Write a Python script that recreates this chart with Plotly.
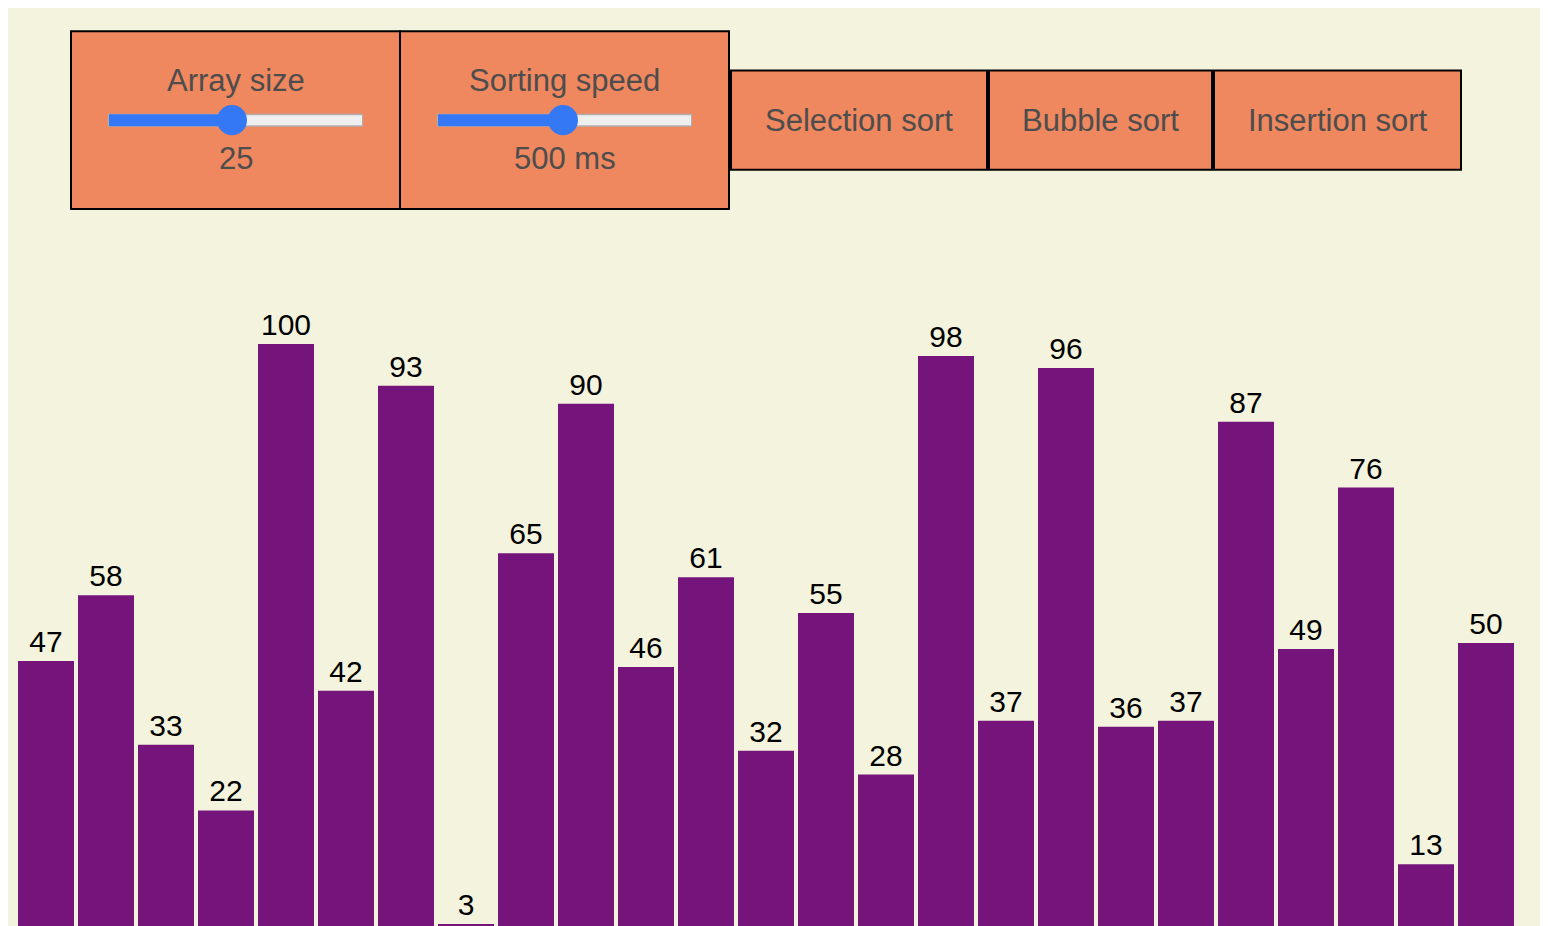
import plotly.graph_objects as go

# bar values of the array
positions = list(range(25))
values = [47, 58, 33, 22, 100, 42, 93, 3, 65, 90, 46, 61, 32, 55, 28,
          98, 37, 96, 36, 37, 87, 49, 76, 13, 50]

# control panel labels
panel_titles = ["Array size", "Sorting speed"]
panel_values = ["25", "500 ms"]
button_labels = ["Selection sort", "Bubble sort", "Insertion sort"]

W, H = 1548, 926
OFF = 8  # page margin of the html body
L, T = 16 - OFF, 200 - OFF
PW, PH = 1500, H - 200

bg = "#F4F4DE"
box_col = "#EF875F"
bar_col = "#75147A"
txt_col = "#4D4D4D"


# screen pixel -> paper coordinates
def px(x):
    return (x - 16) / PW


def py(y):
    return (926 - y) / PH


fig = go.Figure(go.Bar(
    x=positions, y=values, text=values, textposition="outside",
    marker=dict(color=bar_col, line=dict(width=0)),
    textfont=dict(family="Liberation Sans, Arial", size=30, color="black"),
    cliponaxis=False, hoverinfo="skip",
))

shapes = []
annotations = []


def label(x, y, text):
    annotations.append(dict(xref="paper", yref="paper", x=px(x), y=py(y), text=text,
                            showarrow=False, xanchor="center", yanchor="middle",
                            font=dict(family="Liberation Sans, Arial", size=31, color=txt_col)))


# slider panels
panel_x = [(71, 400), (400, 729)]
thumb_x = [232, 563]
for (x0, x1), tx, title, val in zip(panel_x, thumb_x, panel_titles, panel_values):
    shapes.append(dict(type="rect", xref="paper", yref="paper", x0=px(x0), x1=px(x1),
                       y0=py(209), y1=py(33), fillcolor=box_col, line=dict(color="black", width=2)))
    cx = (x0 + x1) / 2
    t0, t1 = x0 + 37, x1 - 37
    shapes.append(dict(type="line", xref="paper", yref="paper", x0=px(t0), x1=px(t1),
                       y0=py(121), y1=py(121), line=dict(color="#B0B0B0", width=13)))
    shapes.append(dict(type="line", xref="paper", yref="paper", x0=px(t0 + 1), x1=px(t1 - 1),
                       y0=py(121), y1=py(121), line=dict(color="#EFEFEF", width=10)))
    shapes.append(dict(type="line", xref="paper", yref="paper", x0=px(t0 + 1), x1=px(tx),
                       y0=py(121), y1=py(121), line=dict(color="#3478F6", width=12)))
    shapes.append(dict(type="circle", xref="paper", yref="paper", x0=px(tx - 15), x1=px(tx + 15),
                       y0=py(136), y1=py(106), fillcolor="#3478F6", line=dict(width=0)))
    label(cx, 82, title)
    label(cx, 159, val)

# sort buttons
button_x = [(731, 987), (989, 1212), (1214, 1461)]
for (x0, x1), lab in zip(button_x, button_labels):
    shapes.append(dict(type="rect", xref="paper", yref="paper", x0=px(x0), x1=px(x1),
                       y0=py(170), y1=py(72), fillcolor=box_col, line=dict(color="black", width=2)))
    label((x0 + x1) / 2, 121, lab)

fig.update_layout(
    width=W, height=H,
    margin=dict(l=L, r=W - L - PW, t=T, b=0),
    paper_bgcolor=bg, plot_bgcolor=bg,
    bargap=4 / 60, showlegend=False,
    xaxis=dict(visible=False, range=[-0.5, 24.5]),
    yaxis=dict(visible=False, range=[OFF / 5.98, OFF / 5.98 + (H - T) / 5.98]),
    shapes=shapes, annotations=annotations,
)

fig.write_html("out.html")
